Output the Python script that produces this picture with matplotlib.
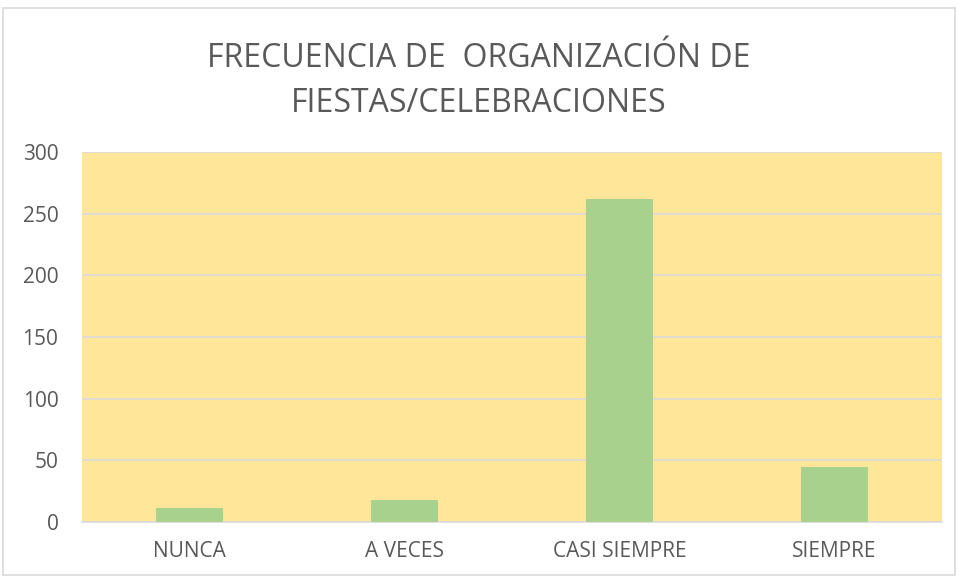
import matplotlib
matplotlib.use("Agg")
import matplotlib.pyplot as plt
from matplotlib.patches import Rectangle

categories = ["NUNCA", "A VECES", "CASI SIEMPRE", "SIEMPRE"]
values = [11, 18, 262, 45]
yticks = [0, 50, 100, 150, 200, 250, 300]
title = "FRECUENCIA DE  ORGANIZACIÓN DE\nFIESTAS/CELEBRACIONES"

plt.rcParams['font.family'] = ['Open Sans', 'DejaVu Sans']

fig = plt.figure(figsize=(9.58, 5.78), dpi=100)
fig.patch.set_facecolor("white")
ax = fig.add_axes([82/958, 1-522/578, 860/958, 370/578])
ax.set_facecolor("#FFE699")

x = range(len(categories))
ax.bar(x, values, width=0.31, color="#A9D18E", zorder=3)
ax.set_xlim(-0.5, len(categories) - 0.5)
ax.set_ylim(0, 300)
ax.set_yticks(yticks)
ax.set_xticks(list(x))
ax.set_xticklabels(categories)
ax.grid(axis="y", color="#D9D9D9", linewidth=1.2, zorder=1)
for s in ["top", "right", "left"]:
    ax.spines[s].set_visible(False)
ax.spines["bottom"].set_color("#D9D9D9")
ax.spines["bottom"].set_linewidth(1.2)
ax.tick_params(axis="both", length=0, labelsize=15, colors="#595959")
ax.tick_params(axis="x", pad=14)
ax.tick_params(axis="y", pad=17)

fig.text(0.5, 1 - 81/578, title, ha="center", va="center", fontsize=23,
         color="#595959", linespacing=1.5)

fig.patches.append(Rectangle((3/958, 3/578), 952/958, 1 - 11/578, transform=fig.transFigure,
                             fill=False, edgecolor="#D9D9D9", linewidth=1.2))

fig.savefig("out.png", dpi=100)
